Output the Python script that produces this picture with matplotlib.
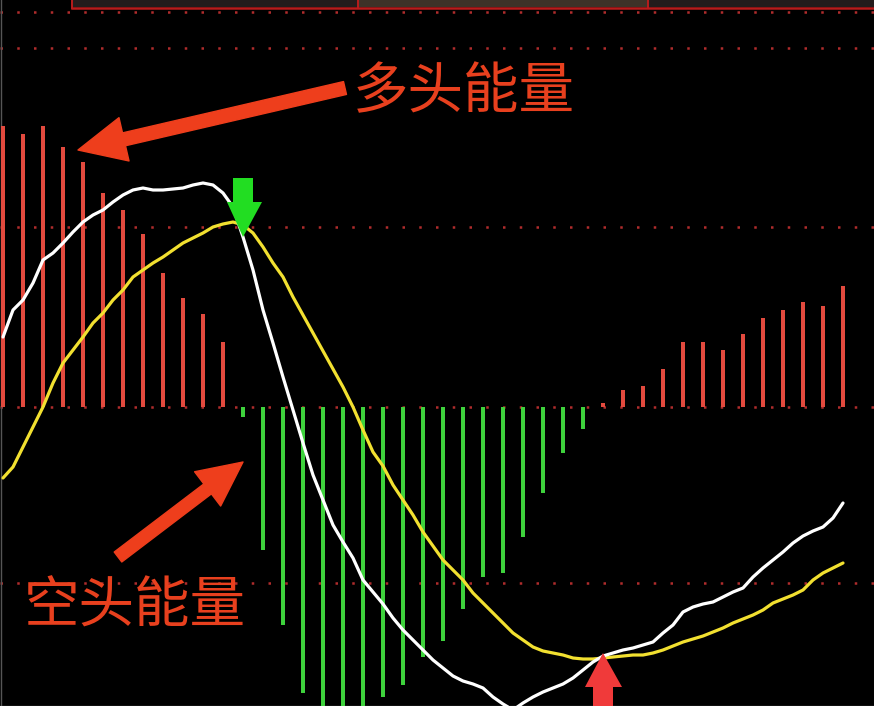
import matplotlib
matplotlib.use("Agg")
import matplotlib.pyplot as plt
from matplotlib.patches import Polygon
from matplotlib.transforms import Affine2D

plt.rcParams['font.family'] = ['Noto Sans CJK SC', 'DejaVu Sans']

# ---------------- data ----------------
# MACD histogram (one bar per period)
hist_bull_left = [2.81, 2.73, 2.81, 2.60, 2.45, 2.14, 1.97, 1.73, 1.34, 1.09, 0.93, 0.65]
hist_bear = [-0.10, -1.43, -2.18, -2.86, -3.10, -3.10, -3.10, -2.90, -2.78, -2.50,
             -2.34, -2.02, -1.70, -1.66, -1.30, -0.86, -0.46, -0.22]
hist_bull_right = [0.04, 0.17, 0.21, 0.38, 0.65, 0.65, 0.57, 0.73, 0.89, 0.97, 1.05, 1.01, 1.21]

# DIF (white) and DEA (yellow), sampled every half period
dif = [0.70, 0.97, 1.07, 1.24, 1.47, 1.54, 1.64, 1.75, 1.85, 1.92,
       1.97, 2.05, 2.12, 2.17, 2.19, 2.17, 2.17, 2.18, 2.19, 2.22,
       2.24, 2.22, 2.14, 2.00, 1.70, 1.37, 0.97, 0.64, 0.30, -0.03,
       -0.36, -0.68, -0.93, -1.18, -1.35, -1.51, -1.73, -1.85, -1.97, -2.11,
       -2.23, -2.33, -2.43, -2.53, -2.61, -2.69, -2.74, -2.77, -2.81, -2.90,
       -2.97, -3.03, -2.96, -2.90, -2.85, -2.81, -2.77, -2.71, -2.63, -2.55,
       -2.49, -2.46, -2.43, -2.41, -2.38, -2.35, -2.26, -2.18, -2.05, -2.00,
       -1.97, -1.95, -1.90, -1.85, -1.81, -1.70, -1.61, -1.53, -1.45, -1.36,
       -1.29, -1.24, -1.20, -1.11, -0.96]
dea = [-0.71, -0.60, -0.40, -0.20, 0.00, 0.24, 0.44, 0.57, 0.70, 0.84,
       0.94, 1.07, 1.17, 1.30, 1.37, 1.44, 1.50, 1.57, 1.64, 1.69,
       1.74, 1.80, 1.83, 1.85, 1.82, 1.74, 1.60, 1.44, 1.30, 1.10,
       0.92, 0.74, 0.56, 0.38, 0.20, 0.00, -0.23, -0.45, -0.59, -0.78,
       -0.93, -1.08, -1.25, -1.39, -1.53, -1.63, -1.73, -1.86, -1.96, -2.06,
       -2.16, -2.26, -2.33, -2.40, -2.44, -2.46, -2.48, -2.51, -2.52, -2.52,
       -2.51, -2.50, -2.49, -2.48, -2.48, -2.46, -2.43, -2.39, -2.35, -2.32,
       -2.29, -2.25, -2.21, -2.16, -2.12, -2.08, -2.03, -1.96, -1.92, -1.88,
       -1.83, -1.73, -1.66, -1.61, -1.56]

grid_levels = [3.95, 3.59, 1.80, 0.0, -1.76]
label_bull = "多头能量"
label_bear = "空头能量"

# ---------------- figure ----------------
W, H = 874, 706
fig = plt.figure(figsize=(W / 100, H / 100), dpi=100, facecolor='black')
ax = fig.add_axes([0, 0, 1, 1])
ax.set_facecolor('black')
ax.set_xlim(-0.15, 43.55)
ax.set_ylim(-2.99, 4.07)
ax.set_xticks([])
ax.set_yticks([])
for s in ax.spines.values():
    s.set_visible(False)

# pixel transform (image coords, origin top-left)
pix = Affine2D().scale(1 / W, -1 / H).translate(0, 1) + fig.transFigure

# top header strip
ax.add_patch(Polygon([(72, 0), (358, 0), (358, 7), (72, 7)], closed=True,
                     facecolor='#241c1c', edgecolor='none', transform=pix, zorder=1))
ax.add_patch(Polygon([(358, 0), (648, 0), (648, 7), (358, 7)], closed=True,
                     facecolor='#3e3228', edgecolor='none', transform=pix, zorder=1))
ax.add_patch(Polygon([(648, 0), (874, 0), (874, 7), (648, 7)], closed=True,
                     facecolor='#241c1c', edgecolor='none', transform=pix, zorder=1))
ax.plot([72, 874], [7.5, 7.5], color='#b81c1c', lw=1.8, transform=pix, zorder=2)
for xv in [72, 358, 648]:
    ax.plot([xv, xv], [0, 7.5], color='#b81c1c', lw=1.4, transform=pix, zorder=2)

# dotted grid lines
for lv in grid_levels:
    ax.axhline(lv, color='#b02c2c', lw=1.8, linestyle=(0, (1, 5.7)), zorder=1)

# histogram bars
n1, n2, n3 = len(hist_bull_left), len(hist_bear), len(hist_bull_right)
idx1 = list(range(n1))
idx2 = list(range(n1, n1 + n2))
idx3 = list(range(n1 + n2, n1 + n2 + n3))
ax.bar(idx1, hist_bull_left, width=0.2, color='#e24a3e', zorder=3)
ax.bar(idx2, hist_bear, width=0.2, color='#3ed23c', zorder=3)
ax.bar(idx3, hist_bull_right, width=0.2, color='#e24a3e', zorder=3)

# DIF / DEA lines
t = [i * 0.5 for i in range(len(dif))]
ax.plot(t, dea, color='#f2e030', lw=2.3, zorder=4, solid_capstyle='round')
ax.plot(t, dif, color='white', lw=2.3, zorder=5, solid_capstyle='round')

# signal arrows
green_arrow = [(233, 178), (253, 178), (253, 202), (262, 202), (243, 237), (227, 202), (233, 202)]
red_arrow = [(603, 653), (622, 687), (613, 687), (613, 707), (593, 707), (593, 687), (585, 687)]
ax.add_patch(Polygon(green_arrow, closed=True, facecolor='#22dd22', edgecolor='none',
                     transform=pix, zorder=6))
ax.add_patch(Polygon(red_arrow, closed=True, facecolor='#f03a3a', edgecolor='none',
                     transform=pix, zorder=6))

# annotation arrows
acol = '#ee3e1c'
style = "simple,head_length=3.4,head_width=3.2,tail_width=0.95"
ax.annotate('', xy=(78, H - 150), xytext=(345, H - 88), xycoords='figure pixels',
            textcoords='figure pixels',
            arrowprops=dict(arrowstyle=style, color=acol, shrinkA=0, shrinkB=0,
                            mutation_scale=10), zorder=7)
ax.annotate('', xy=(243, H - 462), xytext=(118, H - 557), xycoords='figure pixels',
            textcoords='figure pixels',
            arrowprops=dict(arrowstyle="simple,head_length=3.2,head_width=3.1,tail_width=0.9",
                            color=acol, shrinkA=0, shrinkB=0, mutation_scale=10), zorder=7)

# labels
fig.text(464 / W, 1 - 92 / H, label_bull, color='#e8401e', fontsize=40,
         ha='center', va='center', zorder=8)
fig.text(135 / W, 1 - 607 / H, label_bear, color='#e8401e', fontsize=40,
         ha='center', va='center', zorder=8)

# left & bottom thin frame
ax.plot([0.5, 0.5], [0, H], color='#555555', lw=1, transform=pix, zorder=2)
ax.plot([0, W], [H - 0.5, H - 0.5], color='#555555', lw=1, transform=pix, zorder=2)

fig.savefig('out.png', dpi=100, facecolor='black')
